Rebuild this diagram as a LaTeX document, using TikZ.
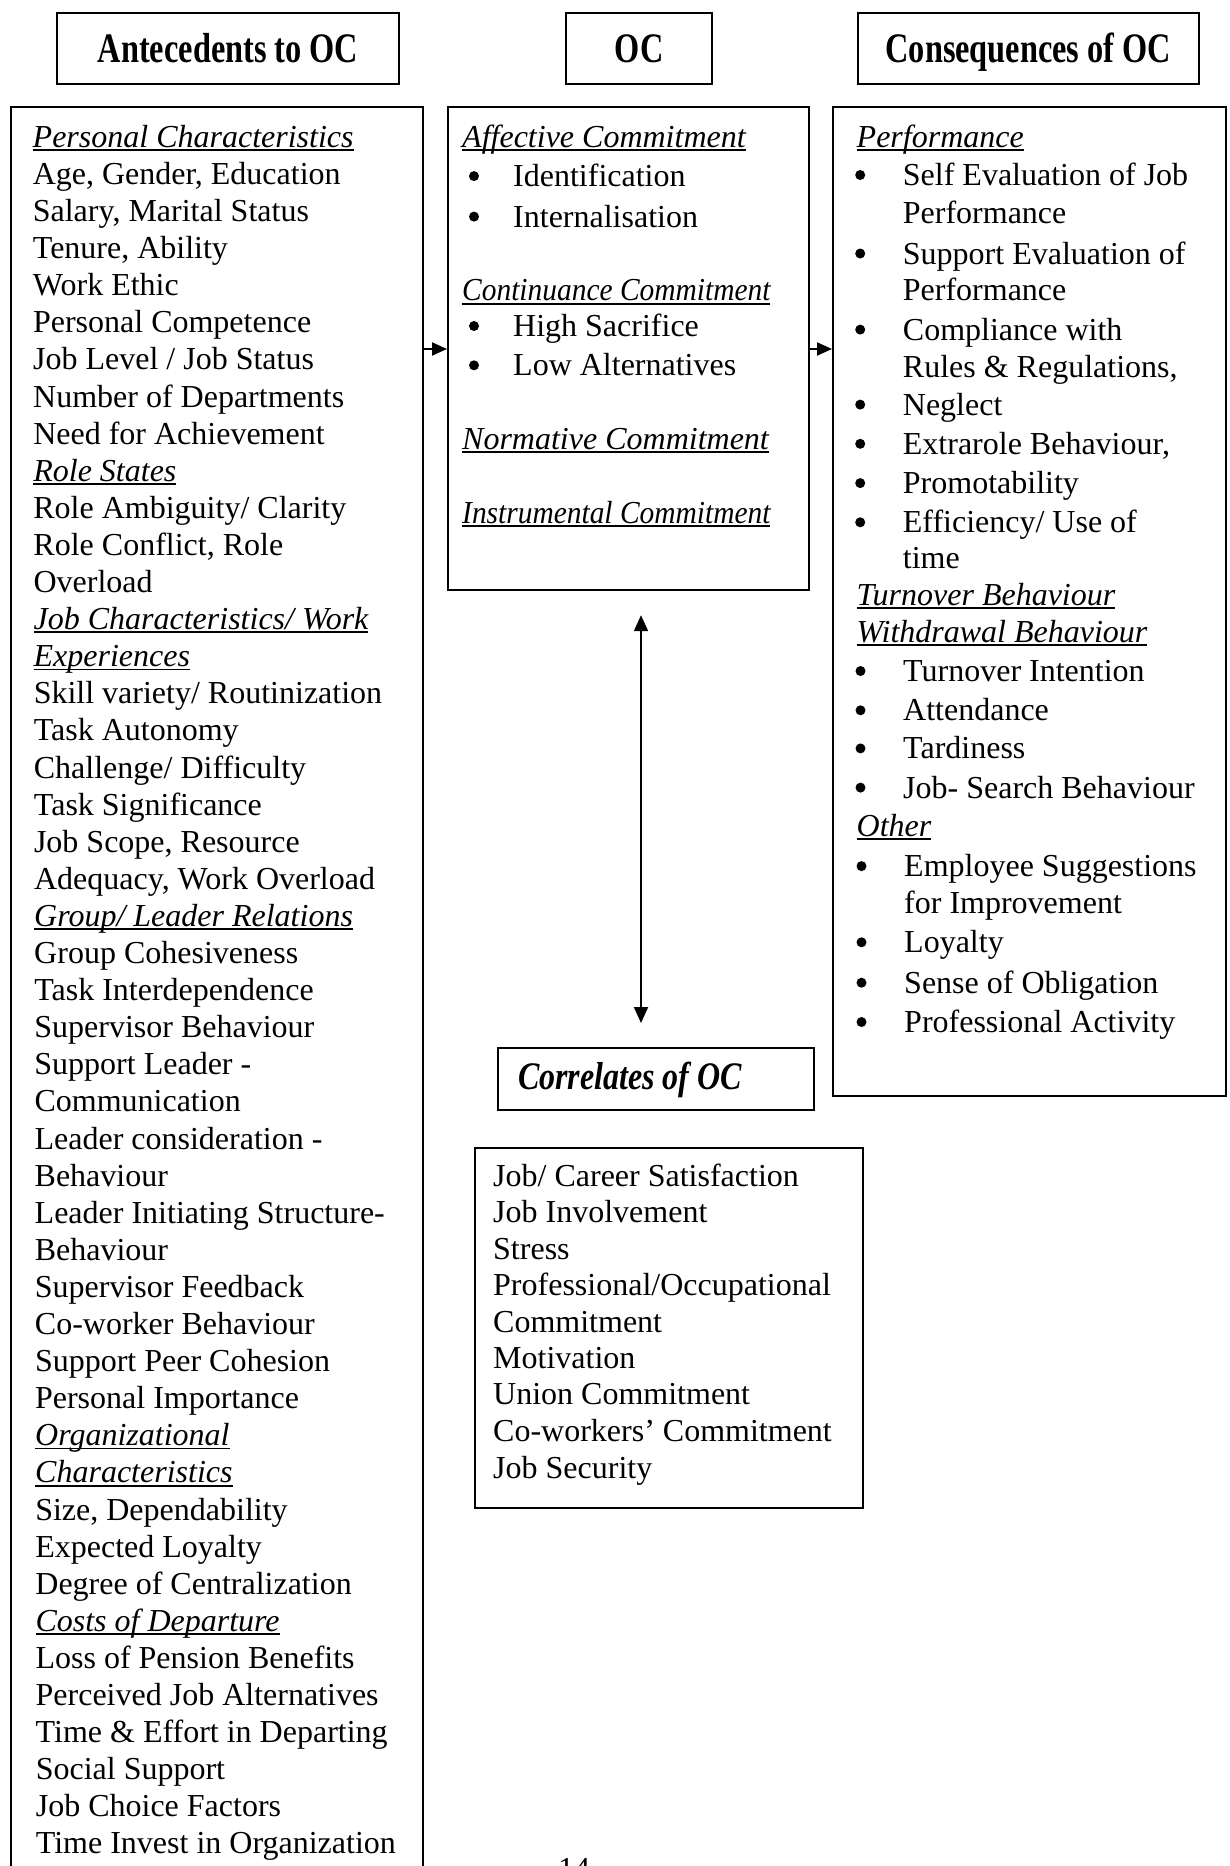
\documentclass[tikz,border=0pt]{standalone}
\usepackage{fontspec}
\setmainfont{Liberation Serif}
\newfontfamily\hdfont{Liberation Serif}[FakeStretch=0.77]
\newfontfamily\corrfont{Liberation Serif}[FakeStretch=0.82]
\newfontfamily\narrowfont{Liberation Serif}[FakeStretch=0.92]
\usetikzlibrary{arrows.meta,calc}

% italic heading with a rule under it
\newcommand\ulit[1]{\setbox0\hbox{\itshape #1}\rlap{\rule[-3.6pt]{\wd0}{1.8pt}}\box0}

\tikzset{
  frame/.style={draw, line width=2.2pt, inner sep=0pt, anchor=north west},
  ln/.style={anchor=base west, inner sep=0pt, font=\fontsize{32}{37}\selectfont},
  hd/.style={anchor=base, inner sep=0pt, font=\hdfont\bfseries\fontsize{42}{48}\selectfont},
  arr/.style={line width=2pt, -{Triangle[length=15pt,width=13pt]}},
  dblarr/.style={line width=2pt, {Triangle[length=16pt,width=14pt]}-{Triangle[length=16pt,width=14pt]}},
  dot/.style={fill=black}
}

\begin{document}
\begin{tikzpicture}[x=1pt,y=-1pt]
\useasboundingbox (0,0) rectangle (1230,1866);
\fill[white] (0,0) rectangle (1230,1866);

% ---- column headings
\node[frame, minimum width=342pt, minimum height=71pt] (hA) at (56,11.7) {};
\node[frame, minimum width=146pt, minimum height=71pt] (hB) at (565,11.7) {};
\node[frame, minimum width=341.5pt, minimum height=71pt] (hC) at (856.5,11.7) {};
\node[hd] (tA) at ($(hA.center)+(0,14.5)$) {Antecedents to OC};
\node[hd] (tB) at ($(hB.center)+(0,14.5)$) {OC};
\node[hd] (tC) at ($(hC.center)+(0,14.5)$) {Consequences of OC};

% ---- main boxes
\node[frame, minimum width=412pt, minimum height=1850pt] (left) at (10,106) {};
\node[frame, minimum width=361pt, minimum height=483pt] (mid) at (447,106) {};
\node[frame, minimum width=393pt, minimum height=989pt] (right) at (832,106) {};
\node[frame, minimum width=316pt, minimum height=62pt] (corr) at (497,1047) {};
\node[frame, minimum width=388pt, minimum height=360pt] (clist) at (474,1147) {};

% ---- antecedents
\foreach \t [count=\n] in {
  \ulit{Personal Characteristics},
  {Age, Gender, Education},
  {Salary, Marital Status},
  {Tenure, Ability},
  Work Ethic,
  Personal Competence,
  Job Level / Job Status,
  Number of Departments,
  Need for Achievement,
  \ulit{Role States},
  Role Ambiguity/ Clarity,
  {Role Conflict, Role},
  Overload,
  \ulit{Job Characteristics/ Work},
  \ulit{Experiences},
  Skill variety/ Routinization,
  Task Autonomy,
  Challenge/ Difficulty,
  Task Significance,
  {Job Scope, Resource},
  {Adequacy, Work Overload},
  \ulit{Group/ Leader Relations},
  Group Cohesiveness,
  Task Interdependence,
  Supervisor Behaviour,
  Support Leader -,
  Communication,
  Leader consideration -,
  Behaviour,
  Leader Initiating Structure-,
  Behaviour,
  Supervisor Feedback,
  Co-worker Behaviour,
  Support Peer Cohesion,
  Personal Importance,
  \ulit{Organizational},
  \ulit{Characteristics},
  {Size, Dependability},
  Expected Loyalty,
  Degree of Centralization,
  \ulit{Costs of Departure},
  Loss of Pension Benefits,
  Perceived Job Alternatives,
  Time \& Effort in Departing,
  Social Support,
  Job Choice Factors,
  Time Invest in Organization}
  \node[ln] (L\n) at ({32.5+0.07*(\n-1)},{147.3+37.1*(\n-1)}) {\t};

% ---- forms of commitment
\node[ln] (m1) at (462,147.4) {\ulit{Affective Commitment}};
\node[ln] (m2) at (513,186.6) {Identification};
\node[ln] (m3) at (513,227.1) {Internalisation};
\node[ln] (m4) at (462,300.9) {\ulit{\narrowfont Continuance Commitment}};
\node[ln] (m5) at (513,336.5) {High Sacrifice};
\node[ln] (m6) at (513,375.8) {Low Alternatives};
\node[ln] (m7) at (462,449.6) {\ulit{Normative Commitment}};
\node[ln] (m8) at (462,523.3) {\ulit{\narrowfont Instrumental Commitment}};
\foreach \b in {m2,m3,m5,m6}
  \fill[dot] ($(\b.base west)+(-39,-10.5)$) circle (5pt);

% ---- consequences
\node[ln] (r1)  at (856.5,147.4)  {\ulit{Performance}};
\node[ln] (r2)  at (902.7,185.5)  {Self Evaluation of Job};
\node[ln] (r3)  at (902.7,223.5)  {Performance};
\node[ln] (r4)  at (902.7,264.0)  {Support Evaluation of};
\node[ln] (r5)  at (902.7,300.9)  {Performance};
\node[ln] (r6)  at (902.7,340.1)  {Compliance with};
\node[ln] (r7)  at (902.7,377.0)  {Rules \& Regulations,};
\node[ln] (r8)  at (902.7,415.1)  {Neglect};
\node[ln] (r9)  at (902.7,454.3)  {Extrarole Behaviour,};
\node[ln] (r10) at (902.7,493.6)  {Promotability};
\node[ln] (r11) at (902.7,532.8)  {Efficiency/ Use of};
\node[ln] (r12) at (902.7,568.5)  {time};
\node[ln] (r13) at (856.5,605.4)  {\ulit{Turnover Behaviour}};
\node[ln] (r14) at (856.5,642.3)  {\ulit{Withdrawal Behaviour}};
\node[ln] (r15) at (903,681.5)    {Turnover Intention};
\node[ln] (r16) at (903,720.8)    {Attendance};
\node[ln] (r17) at (903,758.9)    {Tardiness};
\node[ln] (r18) at (903,798.1)    {Job- Search Behaviour};
\node[ln] (r19) at (856.5,836.2)  {\ulit{Other}};
\node[ln] (r20) at (904,876.6)    {Employee Suggestions};
\node[ln] (r21) at (904,913.5)    {for Improvement};
\node[ln] (r22) at (904,952.8)    {Loyalty};
\node[ln] (r23) at (904,993.2)    {Sense of Obligation};
\node[ln] (r24) at (904,1032.5)   {Professional Activity};
\foreach \b in {r2,r4,r6,r8,r9,r10,r11,r15,r16,r17,r18,r20,r22,r23,r24}
  \fill[dot] ($(\b.base west)+(-42.5,-10.5)$) circle (5pt);

% ---- correlates
\node[anchor=base west, inner sep=0pt, font=\corrfont\bfseries\itshape\fontsize{39}{44}\selectfont]
  (ct) at (518,1089.3) {Correlates of OC};
\node[ln] (c1) at (493,1186.0) {Job/ Career Satisfaction};
\node[ln] (c2) at (493,1222.8) {Job Involvement};
\node[ln] (c3) at (493,1259.6) {Stress};
\node[ln] (c4) at (493,1295.4) {Professional/Occupational};
\node[ln] (c5) at (493,1332.3) {Commitment};
\node[ln] (c6) at (493,1368.0) {Motivation};
\node[ln] (c7) at (493,1404.9) {Union Commitment};
\node[ln] (c8) at (493,1441.8) {Co-workers’ Commitment};
\node[ln] (c9) at (493,1478.6) {Job Security};

% ---- page number
\node[ln, anchor=base] (pnum) at (574,1879) {14};

% ---- connectors
\coordinate (arow) at (0,349);
\coordinate (vx) at (641,0);
\draw[arr] (left.east |- arow) -- (mid.west |- arow);
\draw[arr] (mid.east |- arow) -- (right.west |- arow);
\draw[dblarr, shorten <=24pt, shorten >=24pt] (mid.south -| vx) -- (corr.north -| vx);
\end{tikzpicture}
\end{document}
